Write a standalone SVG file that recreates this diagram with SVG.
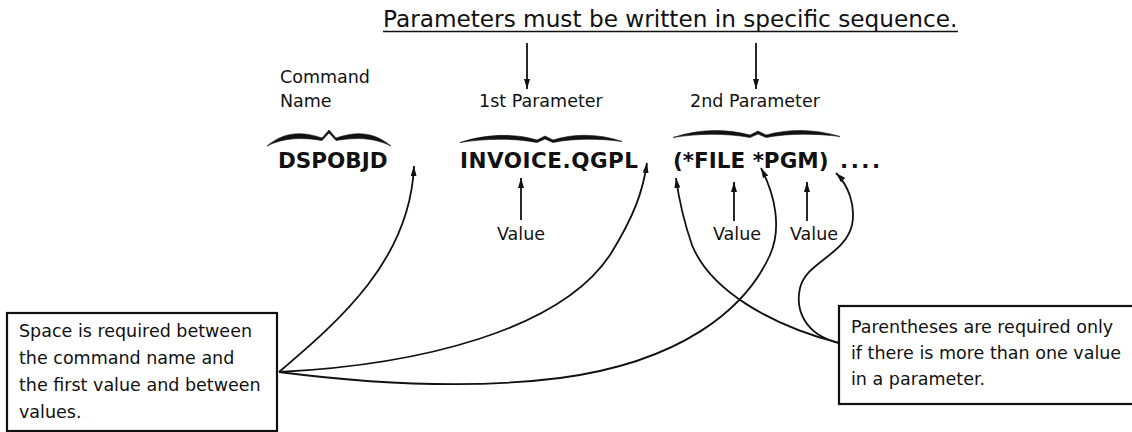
<svg xmlns="http://www.w3.org/2000/svg" width="1132" height="432" viewBox="0 0 1132 432">
<style>
.t{font-family:"DejaVu Sans","Liberation Sans",sans-serif;font-size:17.5px;fill:#111}
.b{font-family:"DejaVu Sans","Liberation Sans",sans-serif;font-size:21.5px;font-weight:bold;fill:#111}
.title{font-family:"DejaVu Sans","Liberation Sans",sans-serif;font-size:23.2px;fill:#111}
.c{fill:none;stroke:#111;stroke-width:1.8}
.box{fill:#fff;stroke:#111;stroke-width:2.2}
.br{fill:#111;stroke:#111;stroke-width:0.6;stroke-linejoin:round}
</style>
<defs>
<marker id="ah" viewBox="0 0 10 6" refX="10" refY="3" markerWidth="10" markerHeight="6" markerUnits="userSpaceOnUse" orient="auto">
<path d="M0,0 L10,3 L0,6 Z" fill="#111"/>
</marker>
</defs>
<rect width="1132" height="432" fill="#fff"/>

<g id="title">
<text class="title" x="383" y="27">Parameters must be written in specific sequence.</text>
<line x1="383" y1="31.5" x2="958" y2="31.5" stroke="#111" stroke-width="1.6"/>
</g>

<g id="command-name">
<text class="t" x="280" y="83">Command</text>
<text class="t" x="280" y="107">Name</text>
<path class="br" d="M267,146 C285,131 303,131.5 322,138 L329,130 L336,138 C355,131.5 373,131 391,146 C373,137 355,137.5 336,140.5 L329,133 L322,140.5 C303,137.5 285,137 267,146 Z"/>
<text class="b" x="278" y="168">DSPOBJD</text>
</g>

<g id="param1">
<text class="t" x="479" y="107">1st Parameter</text>
<path class="br" d="M460,142.5 C485,134 515,133 537,140 L545,136 L553,140 C575,133 600,134 622,141.5 C600,138.5 575,138 553,142.5 L545,139 L537,142.5 C515,138 485,138.5 460,142.5 Z"/>
<text class="b" x="460" y="168" letter-spacing="0.5">INVOICE.QGPL</text>
<text class="t" x="497" y="240">Value</text>
</g>

<g id="param2">
<text class="t" x="690" y="107">2nd Parameter</text>
<path class="br" d="M673,137.5 C698,129 725,128.5 750,135 L758,131 L766,135 C790,128.5 815,129 840,136.5 C815,133.5 790,133 766,137.5 L758,134 L750,137.5 C725,133 698,133.5 673,137.5 Z"/>
<text class="b" x="673" y="168">(*FILE *PGM)</text>
<text class="b" x="840" y="168" letter-spacing="-2.5">. . . .</text>
<text class="t" x="713" y="240">Value</text>
<text class="t" x="790" y="240">Value</text>
</g>

<g id="note-space">
<rect class="box" x="7" y="313" width="270" height="118"/>
<text class="t" x="19" y="337">Space is required between</text>
<text class="t" x="19" y="364">the command name and</text>
<text class="t" x="19" y="391">the first value and between</text>
<text class="t" x="19" y="418">values.</text>
</g>

<g id="note-parentheses">
<rect class="box" x="839" y="306" width="300" height="98"/>
<text class="t" x="851" y="333">Parentheses are required only</text>
<text class="t" x="851" y="359">if there is more than one value</text>
<text class="t" x="851" y="385">in a parameter.</text>
</g>

<g id="connectors">
<line class="c" x1="527" y1="43" x2="527" y2="89" marker-end="url(#ah)"/>
<line class="c" x1="756" y1="43" x2="756" y2="89" marker-end="url(#ah)"/>
<line class="c" x1="521" y1="220" x2="521" y2="178" marker-end="url(#ah)"/>
<line class="c" x1="734" y1="221" x2="734" y2="182" marker-end="url(#ah)"/>
<line class="c" x1="807" y1="221" x2="807" y2="182" marker-end="url(#ah)"/>
<path class="c" d="M279,372 C340,320 410,260 414,166" marker-end="url(#ah)"/>
<path class="c" d="M279,372 C420,365 560,330 610,255 C635,215 643,190 647,163" marker-end="url(#ah)"/>
<path class="c" d="M279,372 C380,385 480,388 560,378 C680,362 745,310 770,255 C782,228 775,195 761,168" marker-end="url(#ah)"/>
<path class="c" d="M839,343 C770,325 710,290 692,245 C684,222 679,200 676,178" marker-end="url(#ah)"/>
<path class="c" d="M839,343 C805,335 795,310 800,288 C806,262 845,255 852,225 C856,205 848,185 836,173" marker-end="url(#ah)"/>
</g>
</svg>
